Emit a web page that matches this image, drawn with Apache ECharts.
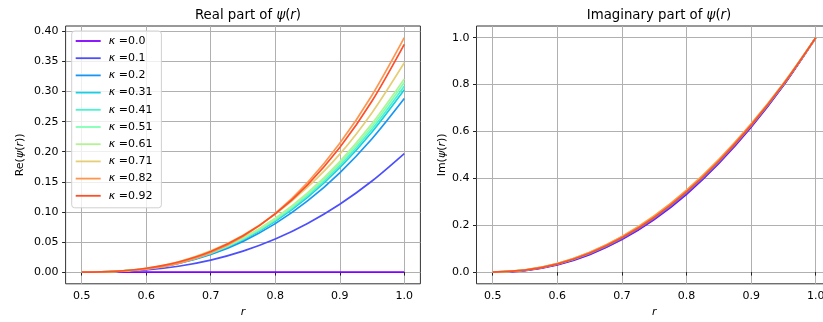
<!DOCTYPE html>
<html>
<head>
<meta charset="utf-8">
<script src="https://cdn.jsdelivr.net/npm/echarts@6/dist/echarts.min.js"></script>
<style>
html,body{margin:0;padding:0;background:#fff;}
#chart{width:823px;height:322px;}
</style>
</head>
<body>
<div id="chart"></div>
<script>
// ---- data ----
const rValues = [0.50, 0.55, 0.60, 0.65, 0.70, 0.75, 0.80, 0.85, 0.90, 0.95, 1.00];
const kappaLabels = ['0.0', '0.1', '0.2', '0.31', '0.41', '0.51', '0.61', '0.71', '0.82', '0.92'];
const lineColors = ['#8000ff', '#4d4ffc', '#1996f3', '#1acee3', '#4df3ce', '#80ffb4', '#b3f396', '#e6ce74', '#ff964f', '#ff4f28'];

const xTicks = [0.5, 0.6, 0.7, 0.8, 0.9, 1.0];
const reTicks = [0.00, 0.05, 0.10, 0.15, 0.20, 0.25, 0.30, 0.35, 0.40];
const imTicks = [0.0, 0.2, 0.4, 0.6, 0.8, 1.0];

// Real part
const re_k00 = [0, 0, 0, 0, 0, 0, 0, 0, 0, 0, 0];
const re_k01 = [0, 0.0006, 0.0035, 0.0097, 0.0199, 0.0348, 0.0549, 0.0808, 0.1128, 0.1514, 0.1970];
const re_k02 = [0, 0.0009, 0.0052, 0.0142, 0.0292, 0.0510, 0.0805, 0.1182, 0.1650, 0.2216, 0.2884];
const re_k03 = [0, 0.0010, 0.0054, 0.0149, 0.0307, 0.0536, 0.0845, 0.1242, 0.1734, 0.2328, 0.3030];
const re_k04 = [0, 0.0010, 0.0055, 0.0152, 0.0313, 0.0546, 0.0862, 0.1267, 0.1769, 0.2374, 0.3090];
const re_k05 = [0, 0.0010, 0.0056, 0.0155, 0.0319, 0.0557, 0.0879, 0.1292, 0.1803, 0.2420, 0.3150];
const re_k06 = [0, 0.0010, 0.0057, 0.0158, 0.0325, 0.0568, 0.0895, 0.1316, 0.1837, 0.2467, 0.3210];
const re_k07 = [0, 0.0011, 0.0062, 0.0172, 0.0352, 0.0612, 0.0962, 0.1410, 0.1960, 0.2650, 0.3480];
const re_k08 = [0, 0.0008, 0.0048, 0.0145, 0.0320, 0.0591, 0.0976, 0.1488, 0.2140, 0.2940, 0.3896];
const re_k09 = [0, 0.0013, 0.0064, 0.0168, 0.0342, 0.0603, 0.0967, 0.1450, 0.2070, 0.2843, 0.3785];

// Imaginary part
const im_k00 = [0, 0.0065, 0.0305, 0.0745, 0.1385, 0.2240, 0.3320, 0.4635, 0.6180, 0.7960, 1.0];
const im_k01 = [0, 0.0073, 0.0323, 0.0773, 0.1423, 0.2285, 0.3370, 0.4683, 0.6220, 0.7985, 1.0];
const im_k02 = [0, 0.0078, 0.0335, 0.0792, 0.1449, 0.2317, 0.3405, 0.4716, 0.6248, 0.8003, 1.0];
const im_k03 = [0, 0.0082, 0.0345, 0.0808, 0.1471, 0.2344, 0.3435, 0.4744, 0.6272, 0.8018, 1.0];
const im_k04 = [0, 0.0085, 0.0352, 0.0819, 0.1486, 0.2362, 0.3455, 0.4763, 0.6288, 0.8028, 1.0];
const im_k05 = [0, 0.0088, 0.0359, 0.0830, 0.1501, 0.2380, 0.3475, 0.4782, 0.6304, 0.8038, 1.0];
const im_k06 = [0, 0.0091, 0.0365, 0.0839, 0.1513, 0.2393, 0.3490, 0.4797, 0.6316, 0.8045, 1.0];
const im_k07 = [0, 0.0092, 0.0368, 0.0844, 0.1520, 0.2402, 0.3500, 0.4806, 0.6324, 0.8050, 1.0];
const im_k08 = [0, 0.0090, 0.0363, 0.0836, 0.1509, 0.2389, 0.3485, 0.4792, 0.6312, 0.8043, 1.0];
const im_k09 = [0, 0.0080, 0.0340, 0.0800, 0.1460, 0.2330, 0.3420, 0.4730, 0.6260, 0.8010, 1.0];

const reData = [re_k00, re_k01, re_k02, re_k03, re_k04, re_k05, re_k06, re_k07, re_k08, re_k09];
const imData = [im_k00, im_k01, im_k02, im_k03, im_k04, im_k05, im_k06, im_k07, im_k08, im_k09];

// ---- chart ----
const FONT = 'DejaVu Sans';
const rich = {
  n: { fontFamily: FONT, fontSize: 11, color: '#000' },
  i: { fontFamily: FONT, fontSize: 11, color: '#000', fontStyle: 'italic' }
};
const titleRich = {
  n: { fontFamily: FONT, fontSize: 13.3, color: '#000', fontWeight: 'normal' },
  i: { fontFamily: FONT, fontSize: 13.3, color: '#000', fontStyle: 'italic', fontWeight: 'normal' }
};

function makeX(gridIndex) {
  return {
    type: 'value', gridIndex: gridIndex, min: 0.475, max: 1.025,
    name: '{i|r}', nameLocation: 'middle', nameGap: 20,
    nameTextStyle: { rich: rich },
    axisLine: { show: false },
    axisTick: { show: true, length: 3.5, customValues: xTicks, lineStyle: { color: '#222', width: 1 } },
    axisLabel: { customValues: xTicks, margin: 7, fontFamily: FONT, fontSize: 11, color: '#000',
      formatter: v => v.toFixed(1) },
    splitLine: { show: true, lineStyle: { color: '#b0b0b0', width: 1 } }
  };
}
function makeY(gridIndex, min, max, ticks, dec, nm, gap) {
  return {
    type: 'value', gridIndex: gridIndex, min: min, max: max,
    name: nm, nameLocation: 'middle', nameGap: gap, nameRotate: 90,
    nameTextStyle: { rich: rich },
    axisLine: { show: false },
    axisTick: { show: true, length: 3.5, customValues: ticks, lineStyle: { color: '#222', width: 1 } },
    axisLabel: { customValues: ticks, margin: 7, fontFamily: FONT, fontSize: 11, color: '#000',
      formatter: v => v.toFixed(dec) },
    splitLine: { show: true, lineStyle: { color: '#b0b0b0', width: 1 } }
  };
}

const series = [];
reData.forEach((vals, k) => {
  series.push({
    name: kappaLabels[k], type: 'line', xAxisIndex: 0, yAxisIndex: 0,
    data: rValues.map((r, j) => [r, vals[j]]),
    smooth: 0.3, symbol: 'none', showSymbol: false,
    lineStyle: { color: lineColors[k], width: 1.7 },
    itemStyle: { color: lineColors[k] }, z: 3 + k
  });
});
imData.forEach((vals, k) => {
  series.push({
    name: kappaLabels[k], type: 'line', xAxisIndex: 1, yAxisIndex: 1,
    data: rValues.map((r, j) => [r, vals[j]]),
    smooth: 0.3, symbol: 'none', showSymbol: false,
    lineStyle: { color: lineColors[k], width: 1.7 },
    itemStyle: { color: lineColors[k] }, z: 3 + k
  });
});

const chart = echarts.init(document.getElementById('chart'), null, { renderer: 'canvas' });
chart.setOption({
  animation: false,
  backgroundColor: '#fff',
  title: [
    { text: '{n|Real part of }{i|ψ}{n|(}{i|r}{n|)}', left: 243, top: 4, textAlign: 'center',
      textStyle: { fontWeight: 'normal', rich: titleRich } },
    { text: '{n|Imaginary part of }{i|ψ}{n|(}{i|r}{n|)}', left: 654, top: 4, textAlign: 'center',
      textStyle: { fontWeight: 'normal', rich: titleRich } }
  ],
  grid: [
    { left: 65.6, top: 26, width: 354.8, height: 257.8, show: true, borderColor: '#333', borderWidth: 1, backgroundColor: 'transparent', containLabel: false, outerBoundsMode: 'none' },
    { left: 476.5, top: 26, width: 355.4, height: 257.8, show: true, borderColor: '#333', borderWidth: 1, backgroundColor: 'transparent', containLabel: false, outerBoundsMode: 'none' }
  ],
  xAxis: [makeX(0), makeX(1)],
  yAxis: [
    makeY(0, -0.0195, 0.409, reTicks, 2, '{n|Re(}{i|ψ}{n|(}{i|r}{n|))}', 40),
    makeY(1, -0.05, 1.05, imTicks, 1, '{n|Im(}{i|ψ}{n|(}{i|r}{n|))}', 28)
  ],
  legend: {
    data: kappaLabels,
    orient: 'vertical', left: 71.7, top: 31,
    padding: [3, 9, 5, 4],
    icon: 'rect',
    itemWidth: 25, itemHeight: 1.8, itemGap: 3.2,
    backgroundColor: 'rgba(255,255,255,0.8)',
    borderColor: '#d0d0d0', borderWidth: 1, borderRadius: 3,
    selectedMode: false,
    formatter: name => '{i|κ}{n| =' + name + '}',
    textStyle: {
      lineHeight: 14,
      rich: {
        i: { fontFamily: FONT, fontSize: 11, color: '#000', fontStyle: 'italic', padding: [0, 0, 0, 3], lineHeight: 14 },
        n: { fontFamily: FONT, fontSize: 11, color: '#000', lineHeight: 14 }
      }
    }
  },
  series: series
});
</script>
</body>
</html>
